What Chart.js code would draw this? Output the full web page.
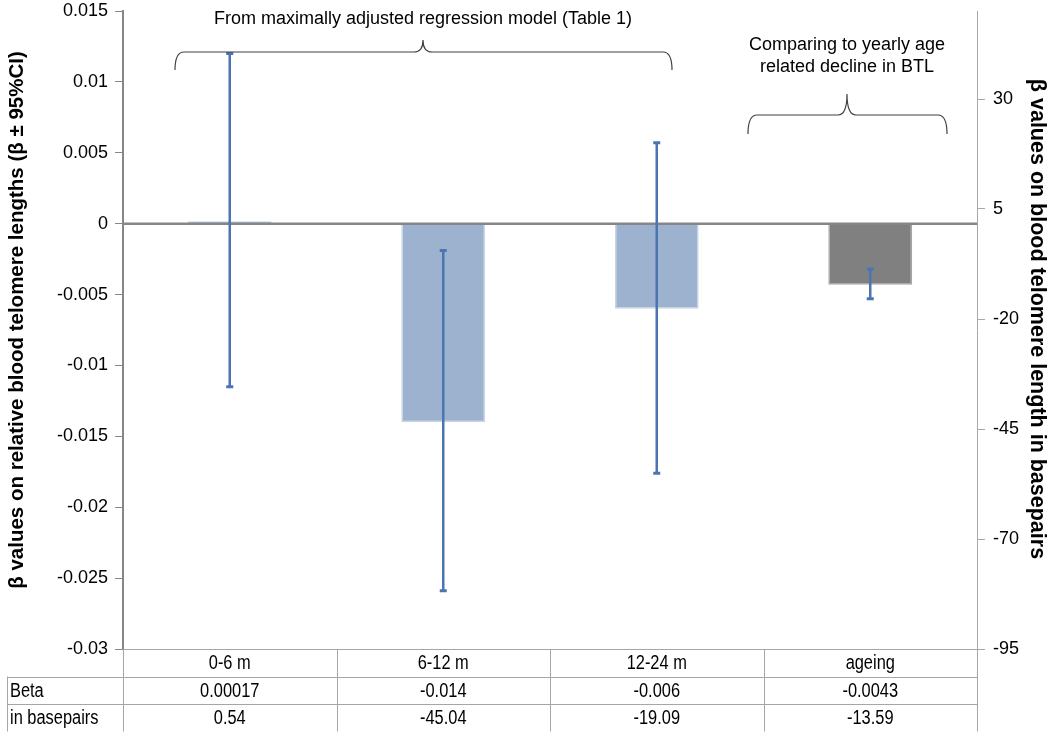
<!DOCTYPE html>
<html>
<head>
<meta charset="utf-8">
<script src="https://cdn.jsdelivr.net/npm/chart.js@4.4.1/dist/chart.umd.min.js"></script>
<style>
  html, body { margin: 0; padding: 0; background: #fff; }
  canvas { display: block; }
</style>
</head>
<body>
<canvas id="chart1" width="1050" height="744"></canvas>
<script>
(function(){
  'use strict';

  var categories = ['0-6 m', '6-12 m', '12-24 m', 'ageing'];
  var betaValues = [0.00017, -0.014, -0.006, -0.0043];
  var ciHigh = [0.012, -0.0019, 0.0057, -0.0032];
  var ciLow = [-0.0115, -0.0259, -0.0176, -0.0053];
  var basepairValues = [0.54, -45.04, -19.09, -13.59];
  var leftTicks = [0.015, 0.01, 0.005, 0, -0.005, -0.01, -0.015, -0.02, -0.025, -0.03];
  var rightTicks = [30, 5, -20, -45, -70, -95];
  var tableRows = ['Beta', 'in basepairs'];

  var barFill = ['#9db2ce', '#9db2ce', '#9db2ce', '#808080'];
  var barEdge = ['#c9d5e6', '#c9d5e6', '#c9d5e6', '#a6a6a6'];

  var FONT = "'Liberation Sans', Arial, sans-serif";

  var errorBars = {
    id: 'errorBars',
    afterDatasetsDraw: function(chart) {
      var ctx = chart.ctx;
      var x = chart.scales.x;
      var y = chart.scales.y;
      var area = chart.chartArea;

      // zero line sits on top of the bars
      ctx.save();
      ctx.strokeStyle = '#868686';
      ctx.lineWidth = 2.5;
      ctx.beginPath();
      ctx.moveTo(area.left, y.getPixelForValue(0));
      ctx.lineTo(area.right, y.getPixelForValue(0));
      ctx.stroke();

      ctx.strokeStyle = '#4a75b0';
      for (var i = 0; i < categories.length; i++) {
        var px = x.getPixelForValue(i);
        var hi = y.getPixelForValue(ciHigh[i]);
        var lo = y.getPixelForValue(ciLow[i]);
        ctx.lineWidth = 2.5;
        ctx.beginPath();
        ctx.moveTo(px, hi);
        ctx.lineTo(px, lo);
        ctx.stroke();
        ctx.lineWidth = 3;
        ctx.beginPath();
        ctx.moveTo(px - 3.5, hi);
        ctx.lineTo(px + 3.5, hi);
        ctx.moveTo(px - 3.5, lo);
        ctx.lineTo(px + 3.5, lo);
        ctx.stroke();
      }
      ctx.restore();
    }
  };

  function drawBrace(ctx, x0, x1, xm, yEnd, yLine, yTip) {
    var r = 9;
    ctx.beginPath();
    ctx.moveTo(x0, yEnd);
    ctx.quadraticCurveTo(x0, yLine, x0 + r, yLine);
    ctx.lineTo(xm - r, yLine);
    ctx.quadraticCurveTo(xm, yLine, xm, yTip);
    ctx.quadraticCurveTo(xm, yLine, xm + r, yLine);
    ctx.lineTo(x1 - r, yLine);
    ctx.quadraticCurveTo(x1, yLine, x1, yEnd);
    ctx.stroke();
  }

  function rotatedText(ctx, text, x, y, angle) {
    ctx.save();
    ctx.translate(x, y);
    ctx.rotate(angle);
    ctx.textAlign = 'center';
    ctx.textBaseline = 'middle';
    ctx.fillText(text, 0, 0);
    ctx.restore();
  }

  var notes = {
    id: 'notes',
    afterDraw: function(chart) {
      var ctx = chart.ctx;
      ctx.save();
      ctx.strokeStyle = '#404040';
      ctx.lineWidth = 1.2;
      drawBrace(ctx, 175, 672, 423, 70, 52, 40);
      drawBrace(ctx, 748, 947, 847, 134, 115, 94);

      ctx.fillStyle = '#000';
      ctx.font = '18px ' + FONT;
      ctx.textAlign = 'center';
      ctx.textBaseline = 'middle';
      ctx.fillText('From maximally adjusted regression model (Table 1)', 423, 19);
      ctx.fillText('Comparing to yearly age', 847, 45);
      ctx.fillText('related decline in BTL', 847, 67);

      // axis titles
      ctx.font = 'bold 20.5px ' + FONT;
      rotatedText(ctx, 'β values on relative blood telomere lengths (β ± 95%CI)', 17, 320, -Math.PI / 2);
      ctx.font = 'bold 21.5px ' + FONT;
      rotatedText(ctx, 'β values on blood telomere length in basepairs', 1037, 319, Math.PI / 2);
      ctx.restore();
    }
  };

  // narrow text, like Arial Narrow, by squeezing the regular face
  function narrowText(ctx, text, x, y, align) {
    var sx = 0.82;
    ctx.save();
    ctx.translate(x, y);
    ctx.scale(sx, 1);
    ctx.textAlign = align;
    ctx.fillText(text, 0, 0);
    ctx.restore();
  }

  var dataTable = {
    id: 'dataTable',
    afterDraw: function(chart) {
      var ctx = chart.ctx;
      var x = chart.scales.x;
      var area = chart.chartArea;
      var half = (x.getPixelForValue(1) - x.getPixelForValue(0)) / 2;
      var rowH = 27.5;
      var top = area.bottom;
      var bottom = top + rowH * 3;
      var labelLeft = 7;

      ctx.save();
      ctx.strokeStyle = '#a6a6a6';
      ctx.lineWidth = 1;
      ctx.beginPath();
      for (var i = 0; i <= categories.length; i++) {
        var bx = Math.round(x.getPixelForValue(i) - half) + 0.5;
        ctx.moveTo(bx, top);
        ctx.lineTo(bx, bottom);
      }
      for (var r = 1; r <= tableRows.length; r++) {
        var ry = Math.round(top + rowH * r) + 0.5;
        ctx.moveTo(labelLeft, ry);
        ctx.lineTo(area.right, ry);
      }
      ctx.moveTo(labelLeft + 0.5, top + rowH);
      ctx.lineTo(labelLeft + 0.5, bottom);
      ctx.stroke();

      ctx.fillStyle = '#000';
      ctx.font = '20px ' + FONT;
      ctx.textBaseline = 'middle';
      var labels = chart.data.labels;
      for (var c = 0; c < labels.length; c++) {
        narrowText(ctx, labels[c], x.getPixelForValue(c), top + rowH * 0.5 + 1, 'center');
      }
      var rows = [
        betaValues.map(function(v) { return String(v); }),
        basepairValues.map(function(v) { return v.toFixed(2); })
      ];
      for (var k = 0; k < tableRows.length; k++) {
        var cy = top + rowH * (k + 1.5) + 1;
        narrowText(ctx, tableRows[k], labelLeft + 3, cy, 'left');
        for (var j = 0; j < categories.length; j++) {
          narrowText(ctx, rows[k][j], x.getPixelForValue(j), cy, 'center');
        }
      }
      ctx.restore();
    }
  };

  function noPad(scale) {
    scale.paddingTop = 0;
    scale.paddingBottom = 0;
  }

  var c1 = document.getElementById('chart1');

  var chart1 = new Chart(c1, {
    type: 'bar',
    data: {
      labels: categories,
      datasets: [{
        data: betaValues,
        backgroundColor: barFill,
        borderColor: barEdge,
        borderWidth: 1.5,
        barPercentage: 0.393,
        categoryPercentage: 1,
        yAxisID: 'y'
      }]
    },
    options: {
      responsive: false,
      animation: false,
      layout: { padding: { top: 11, left: 0, right: 0, bottom: 0 } },
      plugins: {
        legend: { display: false },
        tooltip: { enabled: false }
      },
      scales: {
        x: {
          grid: { display: false },
          border: { display: true, color: '#a6a6a6', width: 1 },
          ticks: { display: false },
          afterFit: function(scale) { scale.height = 95; }
        },
        y: {
          position: 'left',
          min: -0.03,
          max: 0.015,
          afterBuildTicks: function(scale) {
            scale.ticks = leftTicks.map(function(v) { return { value: v }; });
          },
          ticks: {
            color: '#000',
            font: { family: FONT, size: 18 },
            padding: 7,
            callback: function(v) { return String(Number(v.toFixed(4))); }
          },
          grid: {
            drawOnChartArea: false,
            tickLength: 8,
            color: '#868686'
          },
          border: { color: '#868686', width: 2 },
          afterFit: function(scale) { scale.width = 123; noPad(scale); }
        },
        y2: {
          position: 'right',
          min: -95,
          max: 50,
          afterBuildTicks: function(scale) {
            scale.ticks = rightTicks.map(function(v) { return { value: v }; });
          },
          ticks: {
            color: '#000',
            font: { family: FONT, size: 18 },
            padding: 8
          },
          grid: {
            drawOnChartArea: false,
            tickLength: 8,
            color: '#a6a6a6'
          },
          border: { color: '#a6a6a6', width: 1 },
          afterFit: function(scale) { scale.width = 73; noPad(scale); }
        }
      }
    },
    plugins: [errorBars, notes, dataTable]
  });

}());
</script>
</body>
</html>
